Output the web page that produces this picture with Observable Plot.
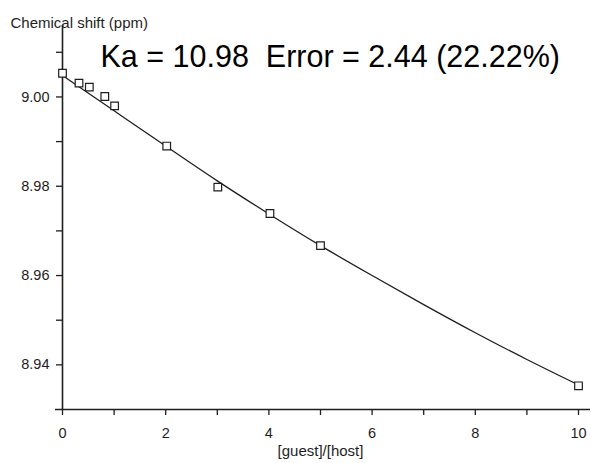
<!DOCTYPE html>
<html><head><meta charset="utf-8">
<script src="https://cdn.jsdelivr.net/npm/d3@7"></script>
<script src="https://cdn.jsdelivr.net/npm/@observablehq/plot@0.6"></script>
<style>body{margin:0;background:#fff}</style>
</head><body><div id="chart"></div>
<script>
// Measured points ([guest]/[host] vs chemical shift, ppm)
const ratio = [0, 0.32, 0.52, 0.82, 1.01, 2.02, 3.01, 4.02, 5.0, 10];
const shift = [9.0053, 9.0031, 9.0022, 9.0001, 8.9980, 8.9890, 8.9798, 8.9739, 8.9667, 8.9353];
// Fitted curve
const fitX = [0, 1, 2, 3, 4, 5, 6, 7, 8, 9, 10];
const fitY = [9.0048, 8.9969, 8.9890, 8.9812, 8.9738, 8.9667, 8.9600, 8.9535, 8.9472, 8.9412, 8.9355];
// Ticks
const xTicks = [0, 1, 2, 3, 4, 5, 6, 7, 8, 9, 10];
const xLabelled = [0, 2, 4, 6, 8, 10];
const yTicks = [9.01, 9.00, 8.99, 8.98, 8.97, 8.96, 8.95, 8.94];
const yLabelled = [9.00, 8.98, 8.96, 8.94];
// Texts
const titleText = ["Chemical shift (ppm)"];
const annotation = ["Ka = 10.98\u00a0\u00a0Error = 2.44 (22.22%)"];
const xLabel = ["[guest]/[host]"];

const points = ratio.map((x, i) => ({x, y: shift[i]}));
const fit = fitX.map((x, i) => ({x, y: fitY[i]}));
const ink = "#1e1e1e";

const chart = Plot.plot({
  width: 591, height: 463,
  marginLeft: 62, marginRight: 13, marginTop: 25, marginBottom: 54,
  style: {fontFamily: "'Liberation Sans', Arial, sans-serif", fontSize: "14.5px", color: ink, background: "#fff", overflow: "visible"},
  x: {domain: [0, 10]},
  y: {domain: [8.93, 9.016]},
  marks: [
    Plot.axisX({ticks: xTicks, tickSize: 6, tickPadding: 12, strokeWidth: 1.3,
      tickFormat: d => xLabelled.includes(d) ? String(d) : "", label: null, fontSize: 14.5}),
    Plot.axisY({ticks: yTicks, tickSize: 6, tickPadding: 7, strokeWidth: 1.3,
      tickFormat: d => yLabelled.some(v => Math.abs(v - d) < 1e-9) ? d.toFixed(2) : "", label: null, fontSize: 14.5}),
    Plot.ruleY([8.93], {insetLeft: -7, insetRight: -12, stroke: ink, strokeWidth: 1.6}),
    Plot.ruleX([0], {stroke: ink, strokeWidth: 1.6}),
    Plot.line(fit, {x: "x", y: "y", curve: "natural", stroke: ink, strokeWidth: 1.3}),
    Plot.dot(points, {x: "x", y: "y", symbol: "square", r: 4.3, stroke: ink, fill: "#fff", strokeWidth: 1.2}),
    Plot.text(titleText, {text: d => d, frameAnchor: "top-left", textAnchor: "start", lineAnchor: "top", dx: -52, dy: -8, fontSize: 15, fill: ink}),
    Plot.text(annotation, {text: d => d, frameAnchor: "top-left", textAnchor: "start", lineAnchor: "top", dx: 38, dy: 20, fontSize: 30.5, fill: "#000"}),
    Plot.text(xLabel, {text: d => d, frameAnchor: "bottom", lineAnchor: "top", dy: 36, fontSize: 15, fill: ink})
  ]
});
document.getElementById("chart").appendChild(chart);
</script>
</body></html>
